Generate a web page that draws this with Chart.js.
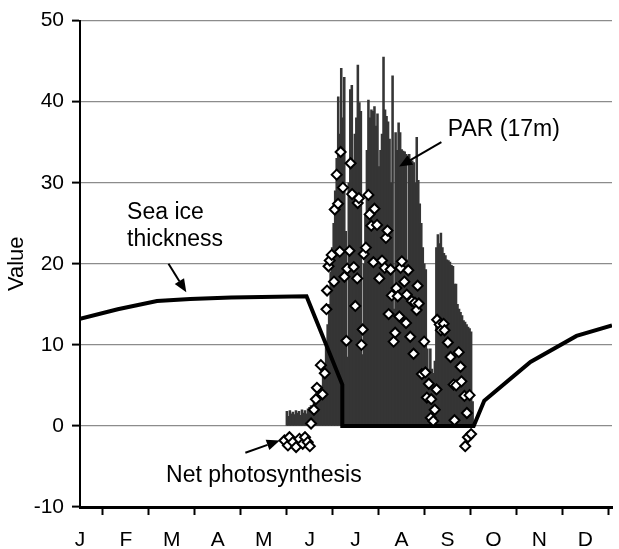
<!DOCTYPE html>
<html>
<head>
<meta charset="utf-8">
<script src="https://cdn.jsdelivr.net/npm/chart.js@4.4.1/dist/chart.umd.min.js"></script>
<style>
    html, body { margin: 0; padding: 0; background: #fff; }
    #wrap { width: 619px; height: 549px; }
</style>
</head>
<body>
<div id="wrap"><canvas id="chart" width="619" height="549"></canvas></div>
<script>
// Month tick labels (ticks evenly spaced, x axis in day-of-year)
const monthLabels = ['J', 'F', 'M', 'A', 'M', 'J', 'J', 'A', 'S', 'O', 'N', 'D'];
const DAYS_PER_MONTH = 365 / 12;
const X_MAX = 352.3;

// Sea ice thickness
const iceDays   = [0, 25, 51, 73, 100, 150, 173.7, 173.7, 260.7, 267.7, 298.3, 328.8, 352.3];
const iceValues = [13.2, 14.4, 15.4, 15.65, 15.85, 16.0, 5.1, 0, 0, 3.1, 7.9, 11.1, 12.4];

// PAR (17m) - daily peaks, one per day starting at day 137
const parStartDay = 137;
const parValues = [
    1.8, 1.2, 1.9, 1.5, 1.7, 1.4, 1.9, 1.6, 1.8, 1.3,
    2.0, 1.6, 1.9, 1.5, 2.1, 2.3, 2.5, 2.0, 3.0, 2.6,
    3.8, 3.3, 5.0, 4.4, 7.5, 6.5, 10, 12.5, 15, 19,
    22, 25, 29, 33, 40.6, 36, 44.1, 38, 43, 24,
    8.5, 30, 41.5, 42, 32, 36, 38, 44.5, 39.9, 38.8,
    8.8, 20, 26, 34, 40.2, 38, 39, 38.8, 39.4, 37,
    38.5, 32, 34, 36, 45.5, 39, 38.2, 37.5, 35.4, 30,
    43.2, 14.4, 36.2, 34, 37.4, 36.2, 34.1, 33.9, 33.8, 33.5,
    20.5, 33.5, 32.9, 32.7, 32.5, 30, 35.6, 30.3, 27.4, 25,
    22, 20, 19.3, 9.5, 7, 9.5, 7, 6.5, 8, 22,
    23.6, 22.5, 23.8, 22, 21.3, 21, 20.5, 20.4, 20.2, 19.8,
    19.7, 17.5, 17.5, 15, 14.4, 14, 13.6, 13, 12.8, 12.5,
    12.2, 12.0, 11.6, 3
];

// Net photosynthesis
const netDays = [
    135.4, 137.7, 138.7, 141.0, 143.1, 145.3, 147.5, 149.0, 150.8, 152.2,
    153.0, 154.9, 156.2, 156.9, 159.5, 160.6, 162.1, 163.2, 163.6, 164.6,
    165.4, 166.7, 168.2, 168.7, 170.0, 170.9, 172.0, 172.6, 174.1, 175.1,
    176.4, 177.0, 178.5, 179.2, 180.2, 181.3, 182.3, 183.6, 183.9, 184.7,
    186.4, 187.2, 187.9, 189.3, 191.0, 191.8, 192.9, 194.3, 195.0, 196.7,
    198.2, 200.0, 201.8, 202.6, 203.6, 204.4, 205.7, 206.5, 207.7, 208.7,
    209.5, 210.4, 211.5, 212.3, 213.1, 214.8, 215.9, 216.4, 217.4, 218.7,
    219.8, 220.9, 221.8, 222.9, 223.6, 224.4, 226.4, 227.9, 228.7, 229.7,
    231.0, 232.3, 232.6, 233.9, 234.9, 236.1, 236.5, 238.2, 239.0, 240.8,
    241.4, 243.6, 245.4, 247.4, 248.0, 249.1, 250.8, 252.0, 252.6, 254.6,
    255.1, 256.2, 256.9, 258.0, 259.0
];
const netValues = [
    -1.8, -2.4, -1.4, -2.0, -2.6, -1.6, -2.2, -1.4, -2.0, -2.5,
    0.3, 2.0, 3.3, 4.7, 7.5, 3.9, 6.5, 14.4, 16.7, 19.7,
    20.4, 21.1, 17.8, 26.7, 31.0, 27.4, 21.5, 33.8, 29.4, 18.4,
    10.5, 19.4, 21.6, 32.4, 28.6, 19.6, 14.8, 18.2, 27.5, 28.1,
    10.0, 11.9, 21.2, 22.0, 28.5, 26.1, 24.7, 20.2, 26.8, 24.8,
    18.2, 20.4, 19.5, 23.2, 24.1, 13.8, 19.3, 16.1, 10.4, 11.5,
    17.0, 16.0, 13.5, 19.5, 20.3, 17.8, 12.7, 16.2, 19.2, 11.0,
    15.4, 8.9, 15.2, 14.3, 17.3, 15.1, 6.4, 10.4, 6.6, 3.5,
    5.2, 1.0, 3.3, 0.6, 2.0, 4.5, 13.1, 12.5, 11.8, 12.6,
    11.8, 10.3, 8.5, 5.1, 0.7, 5.0, 9.1, 7.3, 5.5, 3.7,
    -2.5, 1.6, -1.4, 3.8, -1.0
];

// Annotation texts and arrows, placed in data space (day, value)
const noteTexts = [
    { text: 'Sea ice',            day: 31.2,  value: 25.5 },
    { text: 'thickness',          day: 31.2,  value: 22.2 },
    { text: 'PAR (17m)',          day: 243.6, value: 35.8 },
    { text: 'Net photosynthesis', day: 57.0,  value: -6.9 }
];
const noteArrows = [
    { from: [58.6, 20.0],  to: [70.4, 16.5] },
    { from: [239.3, 35.0], to: [211.3, 32.0] },
    { from: [109.5, -3.3], to: [132.3, -1.8] }
];

const FONT = '"Liberation Sans", Arial, sans-serif';

/**
 * Draw a line with a filled triangular head at the "to" end
 */
function drawArrow(ctx, x1, y1, x2, y2) {
    const ang = Math.atan2(y2 - y1, x2 - x1);
    const len = 13, half = 5.5;
    const bx = x2 - len * Math.cos(ang);
    const by = y2 - len * Math.sin(ang);

    ctx.beginPath();
    ctx.moveTo(x1, y1);
    ctx.lineTo(bx, by);
    ctx.lineWidth = 2;
    ctx.strokeStyle = '#000';
    ctx.stroke();

    ctx.beginPath();
    ctx.moveTo(x2, y2);
    ctx.lineTo(bx + half * Math.sin(ang), by - half * Math.cos(ang));
    ctx.lineTo(bx - half * Math.sin(ang), by + half * Math.cos(ang));
    ctx.closePath();
    ctx.fillStyle = '#000';
    ctx.fill();
}

const annotationPlugin = {
    id: 'notes',
    afterDraw(chart) {
        const { ctx } = chart;
        const xs = chart.scales.x, ys = chart.scales.y;
        ctx.save();
        ctx.fillStyle = '#000';
        ctx.font = '23px ' + FONT;
        ctx.textAlign = 'left';
        ctx.textBaseline = 'alphabetic';
        noteTexts.forEach(n => {
            ctx.fillText(n.text, xs.getPixelForValue(n.day), ys.getPixelForValue(n.value));
        });
        noteArrows.forEach(a => {
            drawArrow(ctx,
                xs.getPixelForValue(a.from[0]), ys.getPixelForValue(a.from[1]),
                xs.getPixelForValue(a.to[0]), ys.getPixelForValue(a.to[1]));
        });
        ctx.restore();
    }
};

Chart.defaults.font.family = FONT;

new Chart(document.getElementById('chart').getContext('2d'), {
    type: 'bar',
    data: {
        datasets: [
            {
                type: 'line',
                label: 'Net photosynthesis',
                data: netDays.map((d, i) => ({ x: d, y: netValues[i] })),
                showLine: false,
                pointStyle: 'rectRot',
                pointRadius: 5,
                pointBackgroundColor: '#fff',
                pointBorderColor: '#000',
                pointBorderWidth: 2,
                order: 0
            },
            {
                type: 'line',
                label: 'Sea ice thickness',
                data: iceDays.map((d, i) => ({ x: d, y: iceValues[i] })),
                borderColor: '#000',
                borderWidth: 4,
                pointRadius: 0,
                tension: 0,
                fill: false,
                order: 1
            },
            {
                type: 'bar',
                label: 'PAR (17m)',
                data: parValues.map((v, i) => ({ x: parStartDay + i, y: v })),
                backgroundColor: '#353535',
                borderWidth: 0,
                barThickness: 1.9,
                order: 2
            }
        ]
    },
    options: {
        responsive: false,
        animation: false,
        devicePixelRatio: 1,
        layout: { padding: { top: 16, right: 0, left: 0, bottom: 0 } },
        plugins: {
            legend: { display: false },
            tooltip: { enabled: false }
        },
        scales: {
            x: {
                type: 'linear',
                min: 0,
                max: X_MAX,
                offset: false,
                grid: { drawOnChartArea: false, tickLength: 8, tickColor: '#000', tickWidth: 2 },
                border: { color: '#000', width: 3 },
                ticks: {
                    autoSkip: false,
                    maxRotation: 0,
                    padding: 13,
                    color: '#000',
                    font: { size: 21 },
                    callback: (value, index) => monthLabels[index]
                },
                afterBuildTicks: scale => {
                    scale.ticks = monthLabels.map((_, i) => ({ value: i * DAYS_PER_MONTH }));
                },
                afterFit: scale => { scale.height = 42; }
            },
            y: {
                min: -10,
                max: 50,
                ticks: { stepSize: 10, padding: 8, color: '#000', font: { size: 21 } },
                grid: { color: '#8c8c8c', lineWidth: 1.2, tickColor: '#000', tickLength: 8, tickWidth: 2 },
                border: { color: '#000', width: 2 },
                title: { display: true, text: 'Value', color: '#000', font: { size: 22 }, padding: { top: 4, bottom: 0 } },
                afterFit: scale => { scale.width = 80; }
            }
        }
    },
    plugins: [annotationPlugin]
});
</script>
</body>
</html>
